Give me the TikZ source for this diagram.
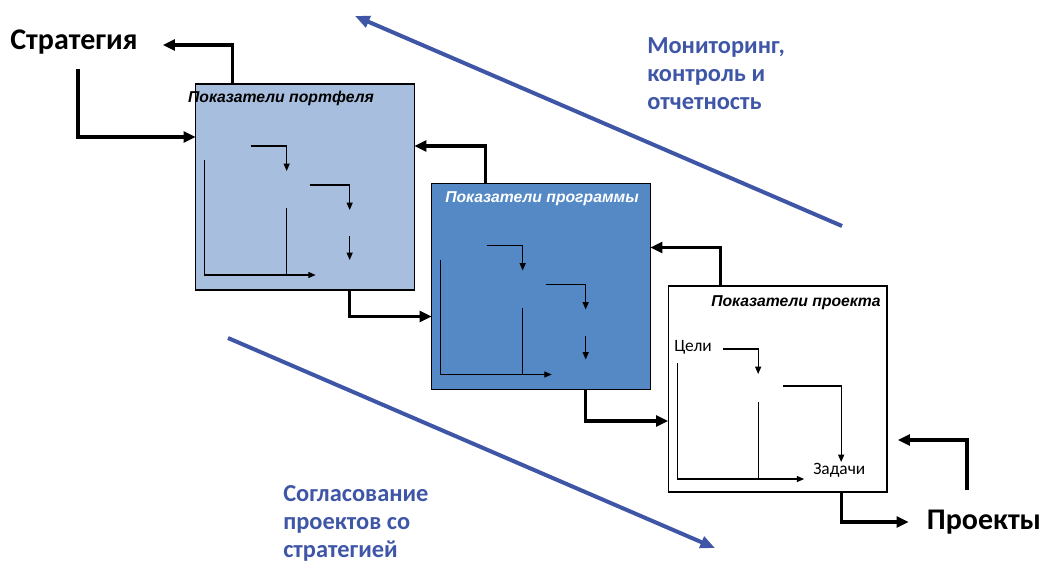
\documentclass[tikz,border=0pt]{standalone}
\usepackage{fontspec}
\setmainfont{Carlito}
\newfontfamily\labelfont{Liberation Sans}
\usetikzlibrary{arrows.meta,calc}

\definecolor{trendblue}{RGB}{63,86,167}
\definecolor{portfblue}{RGB}{168,190,222}
\definecolor{progblue}{RGB}{84,137,198}

\tikzset{
  box/.style={draw=black, line width=1pt, minimum width=164pt, minimum height=154.5pt, inner sep=0pt, outer sep=0pt},
  boxlabel/.style={font=\labelfont\bfseries\itshape\fontsize{11.8}{14}\selectfont, inner sep=0pt},
  flow/.style={line width=2.4pt, -{Triangle[length=9pt,width=8pt]}},
  inner/.style={line width=0.9pt},
  innerarrow/.style={inner, -{Triangle[length=5.5pt,width=4.5pt]}},
  trend/.style={draw=trendblue, line width=3pt, -{Triangle[length=11pt,width=9pt]}},
  bigword/.style={font=\bfseries\fontsize{22.5}{26}\selectfont, inner sep=0pt},
  trendtext/.style={text=trendblue, font=\bfseries\fontsize{18.3}{21}\selectfont, align=left, inner sep=0pt, anchor=north west},
  smallword/.style={font=\fontsize{13}{15}\selectfont, inner sep=0pt, anchor=west},
}

\begin{document}
\begin{tikzpicture}[x=0.75pt, y=-0.75pt]
  \useasboundingbox (0,0) rectangle (1045,560);

  % the three levels
  \node[box, fill=portfblue] (portf) at (305,187) {};
  \node[box, fill=progblue] (prog) at (541,286.5) {};
  \node[box, fill=white] (proj) at (777.5,389) {};

  \node[boxlabel] (portflabel) at (281,98) {Показатели портфеля};
  \node[boxlabel, text=white] (proglabel) at (542,199) {Показатели программы};
  \node[boxlabel] (projlabel) at (796,303) {Показатели проекта};

  \node[bigword] (strat) at (74,42) {Стратегия};
  \node[bigword] (projects) at (984,522) {Проекты};

  \node[trendtext] (montext) at (647,37) {Мониторинг,\\контроль и\\отчетность};
  \node[trendtext] (aligntext) at (283,485) {Согласование\\проектов со\\стратегией};

  % inner schemes
  \foreach \b in {portf,prog}{
    \begin{scope}[shift={(\b.north west)}]
      \draw[innerarrow] (9,76) -- (9,191) -- (120,191);
      \draw[inner] (91,124) -- (91,191);
      \draw[innerarrow] (55,62) -- (91,62) -- (91,87);
      \draw[innerarrow] (114,101) -- (154,101) -- (154,126);
      \draw[innerarrow] (154,152) -- (154,176);
    \end{scope}
  }
  \begin{scope}[shift={(proj.north west)}]
    \draw[innerarrow] (9,77) -- (9,193) -- (136,193);
    \draw[inner] (90,116) -- (90,193);
    \draw[innerarrow] (55,63) -- (90,63) -- (90,88);
    \draw[innerarrow] (115,100) -- (173,100) -- (173,176);
  \end{scope}
  \node[smallword] (goals) at (674,347) {Цели};
  \node[smallword] (tasks) at (813,470) {Задачи};

  % links between levels
  \draw[flow] ($(portf.north west)+(37,0)$) |- ($(strat.east)+(25,3)$);
  \draw[flow] ($(strat.south)+(4,15)$) |- ($(portf.north west)+(0,53)$);
  \draw[flow] ($(prog.north west)+(54,0)$) |- ($(portf.north east)+(0,62)$);
  \draw[flow] ($(portf.south west)+(154,0)$) |- ($(prog.north west)+(0,133)$);
  \draw[flow] ($(proj.north west)+(52,0)$) |- ($(prog.north east)+(0,64)$);
  \draw[flow] ($(prog.south west)+(154,0)$) |- ($(proj.north west)+(0,135)$);
  \draw[flow] ($(proj.south west)+(173,0)$) |- ($(projects.west)+(-18,0)$);
  \draw[flow] ($(projects.north)+(-17,-20)$) |- ($(proj.south east)+(11,-52)$);

  % big trend arrows
  \draw[trend] (842,226) -- (355,16);
  \draw[trend] (228,338) -- (715,548);
\end{tikzpicture}
\end{document}
